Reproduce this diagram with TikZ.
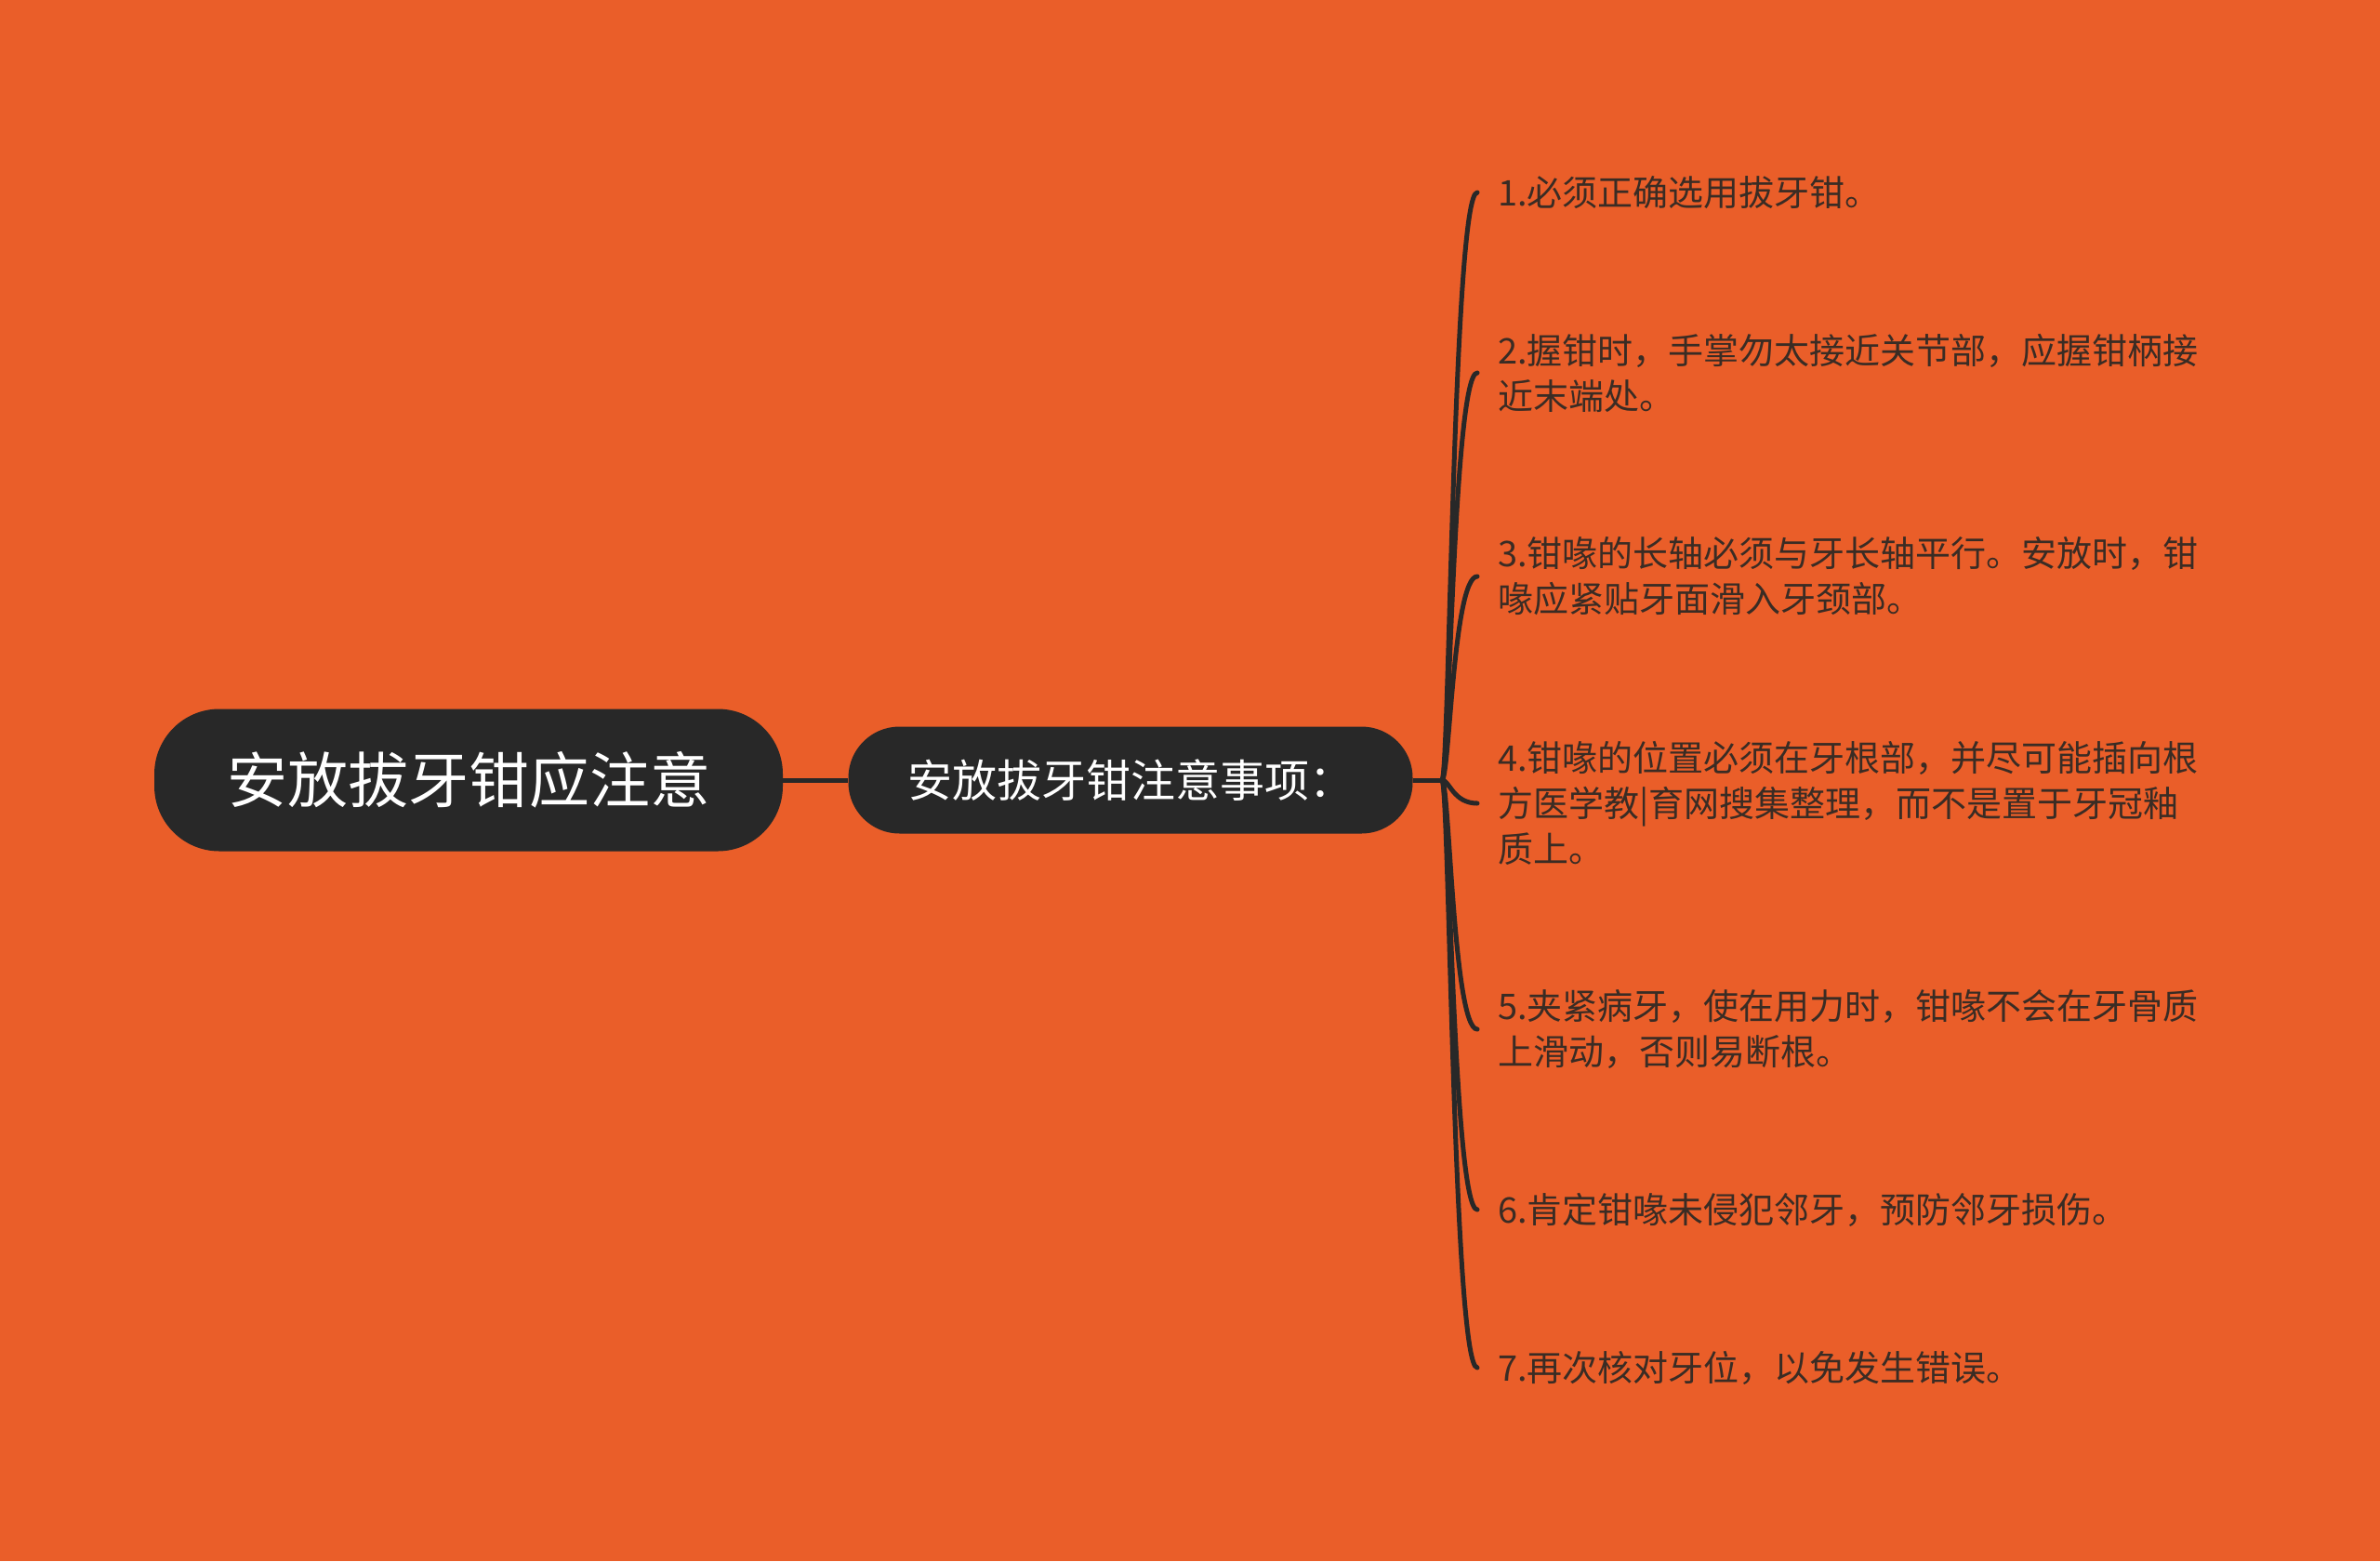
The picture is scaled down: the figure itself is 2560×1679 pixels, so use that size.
\documentclass[tikz,border=0pt]{standalone}
\usepackage{fontspec}
\setmainfont{Noto Sans CJK SC}
\usetikzlibrary{positioning}
\definecolor{bgorange}{HTML}{EA5E29}
\definecolor{nodedark}{HTML}{282828}
\definecolor{leaftext}{HTML}{3A2C24}

\tikzset{
  topicbox/.style={fill=nodedark, text=white, rounded corners=#1, inner sep=0pt},
  leaf/.style={anchor=west, inner sep=0pt, align=left, text=leaftext,
    font=\fontsize{38}{49}\selectfont},
  branch/.style={draw=nodedark, line width=5pt},
}

\begin{document}
\begin{tikzpicture}[x=1pt,y=-1pt]
  \fill[bgorange] (0,0) rectangle (2560,1679);

  \node[topicbox=70pt, minimum width=676pt, minimum height=153pt,
        font=\fontsize{65}{65}\selectfont] (root) at (504,839) {安放拔牙钳应注意};
  \node[topicbox=55pt, minimum width=607pt, minimum height=115pt,
        font=\fontsize{48}{48}\selectfont] (sub) at (1216,839) {安放拔牙钳注意事项：};
  \coordinate (fork) at (1551,839);

  \node[leaf] (n1) at (1611,207) {1.必须正确选用拔牙钳。};
  \node[leaf] (n2) at (1611,401) {2.握钳时，手掌勿太接近关节部，应握钳柄接\\近末端处。};
  \node[leaf] (n3) at (1611,620) {3.钳喙的长轴必须与牙长轴平行。安放时，钳\\喙应紧贴牙面滑入牙颈部。};
  \node[leaf] (n4) at (1611,864) {4.钳喙的位置必须在牙根部，并尽可能插向根\\方医学教|育网搜集整理，而不是置于牙冠釉\\质上。};
  \node[leaf] (n5) at (1611,1107) {5.夹紧病牙，使在用力时，钳喙不会在牙骨质\\上滑动，否则易断根。};
  \node[leaf] (n6) at (1611,1301) {6.肯定钳喙未侵犯邻牙，预防邻牙损伤。};
  \node[leaf] (n7) at (1611,1471) {7.再次核对牙位，以免发生错误。};

  \draw[branch] (root.east) -- (sub.west);
  \draw[branch] (sub.east) -- (fork);
  \foreach \n in {n1,n2,n3,n4,n5,n6,n7}
    \draw[branch, line cap=round] (fork) .. controls ([xshift=8pt]fork) and ([xshift=-48pt]\n.west) .. ([xshift=-22pt]\n.west);
\end{tikzpicture}
\end{document}
